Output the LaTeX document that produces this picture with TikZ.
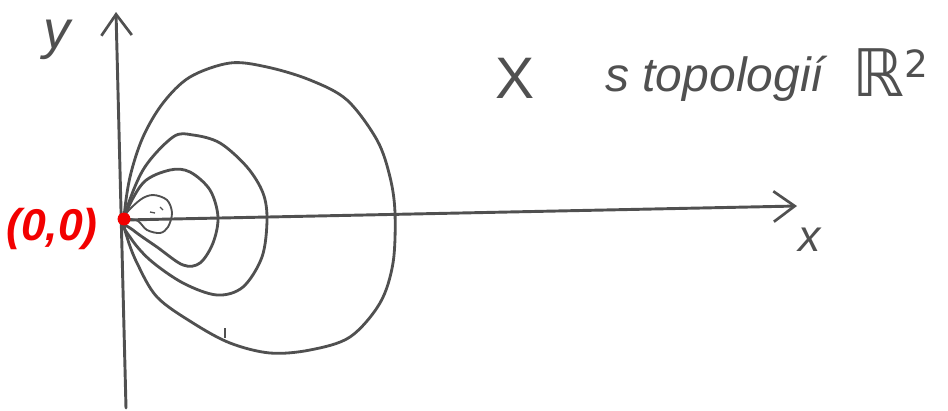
\documentclass[tikz,border=0pt]{standalone}
\usepackage{fontspec}
\setmainfont{Liberation Sans}
\newfontfamily\dejavu{DejaVu Sans}
\usetikzlibrary{arrows.meta}
\definecolor{pen}{HTML}{505050}
\definecolor{redpen}{HTML}{F20000}
\begin{document}
\begin{tikzpicture}[x=0.03cm,y=-0.03cm,
  axis/.style={draw=pen,line width=2.5pt,line cap=round,-{Straight Barb[length=18pt,width=26pt,line width=2.3pt]}},
  ring/.style={draw=pen,line width=2.4pt,line join=round},
  hand/.style={text=pen,inner sep=0pt},
  redlabel/.style={text=redpen,inner sep=0pt,font=\fontsize{38}{40}\selectfont\itshape\bfseries}]
\useasboundingbox (0,0) rectangle (948,410);
% axes
\coordinate (O) at (124,219);
\coordinate (ybot) at (126,408);
\coordinate (ytip) at (116,12);
\coordinate (xstart) at (124,220);
\coordinate (xtip) at (797,206);
\draw[axis] (ybot) -- (ytip);
\draw[axis] (xstart) -- (xtip);
% rings
\draw[ring] plot[smooth cycle,tension=0.55] coordinates {(124,219) (130,177) (143,137) (163,103) (190,77) (230,63) (267,67) (310,80) (347,100) (377,140) (390,177) (395,213) (393,263) (380,303) (350,337) (310,350) (270,353) (230,343) (193,323) (157,297) (137,263) (127,237)};
\draw[ring] plot[smooth cycle,tension=0.55] coordinates {(124,219) (143,170) (173,137) (193,135) (220,143) (247,167) (263,193) (267,220) (262,257) (243,287) (217,295) (183,283) (150,260) (130,237)};
\draw[ring] plot[smooth cycle,tension=0.55] coordinates {(124,219) (143,183) (170,170) (190,172) (210,190) (218,217) (213,243) (200,263) (183,265) (157,247) (133,230)};
\draw[ring,line width=1.6pt] plot[smooth cycle,tension=0.55] coordinates {(125,216) (140,200) (153,195) (167,200) (172,213) (168,227) (160,233) (147,230) (138,221)};
\draw[ring,line width=1.1pt] (150,212) -- (155,213);
\draw[ring,line width=1.1pt] (160,207) -- (163,210);
\draw[ring,line width=1.1pt] (225,328) -- (225,338);
% origin
\fill[redpen] (O) circle[radius=5.5pt];
\node[redlabel] (orig) at (52,229) {(0,0)};
% labels
\node[hand,font=\fontsize{46}{46}\selectfont\itshape,anchor=base] (ylab) at (57,48) {y};
\node[hand,font=\fontsize{38}{38}\selectfont\itshape,anchor=base] (xlab) at (810,251) {x};
\node[hand,font=\fontsize{50}{50}\selectfont] (X) at (515,78) {X};
\node[hand,font=\fontsize{41}{41}\selectfont\itshape,anchor=base west] (topo) at (605,91) {s topologií};
\node[hand,font=\fontsize{56}{56}\selectfont\dejavu,anchor=base west] (R) at (852,96) {ℝ\raisebox{16pt}{\fontsize{32}{32}\selectfont 2}};
\end{tikzpicture}
\end{document}
